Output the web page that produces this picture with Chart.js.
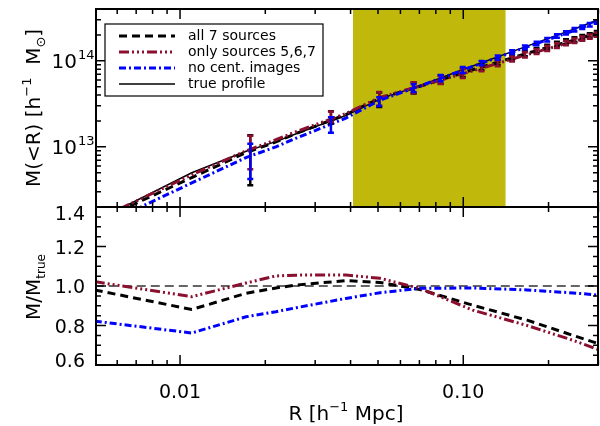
<!DOCTYPE html>
<html>
<head>
<meta charset="utf-8">
<script src="https://cdn.jsdelivr.net/npm/chart.js@4.4.1/dist/chart.umd.min.js"></script>
<style>
  html, body { margin: 0; padding: 0; background: #fff; }
  #wrap { width: 600px; height: 426px; }
</style>
</head>
<body>
<div id="wrap"><canvas id="massChart"></canvas></div>
<script>
// radii (h^-1 Mpc) where the model profiles are sampled
const gridR = [0.005, 0.011, 0.0171, 0.0218, 0.0257, 0.0385, 0.0508, 0.0703, 0.108, 0.168, 0.244, 0.3];

// enclosed mass M(<R), h^-1 Msun
const trueMass   = [1.36e12, 5.0e12, 8.9e12, 1.15e13, 1.42e13, 2.31e13, 3.61e13, 5.15e13, 8.7e13, 1.48e14, 2.31e14, 3.0e14];
const allMass    = [1.33e12, 4.4e12, 8.57e12, 1.14e13, 1.43e13, 2.37e13, 3.67e13, 5.06e13, 7.86e13, 1.22e14, 1.73e14, 2.12e14];
const onlyMass   = [1.39e12, 4.73e12, 9.0e12, 1.21e13, 1.5e13, 2.44e13, 3.75e13, 5.09e13, 7.64e13, 1.18e14, 1.67e14, 2.03e14];
const noCentMass = [1.12e12, 3.81e12, 7.51e12, 1.0e13, 1.26e13, 2.16e13, 3.49e13, 5.09e13, 8.61e13, 1.45e14, 2.23e14, 2.86e14];

// M / M_true
const allRatio    = [0.98, 0.881, 0.963, 0.99, 1.005, 1.027, 1.018, 0.982, 0.903, 0.827, 0.75, 0.708];
const onlyRatio   = [1.022, 0.946, 1.015, 1.051, 1.055, 1.056, 1.039, 0.988, 0.878, 0.80, 0.725, 0.678];
const noCentRatio = [0.822, 0.762, 0.844, 0.87, 0.89, 0.937, 0.966, 0.988, 0.99, 0.98, 0.965, 0.954];
const unityR = [0.005, 0.3];
const unity  = [1.0, 1.0];

// measured points with error bars (centre, half width in dex)
const errR = [0.0177, 0.0341, 0.0505, 0.0668, 0.0832, 0.0996, 0.116, 0.1323, 0.1487, 0.165, 0.1814, 0.1978, 0.2141, 0.2305, 0.2469, 0.2632, 0.2796, 0.296];
const allPts    = [7.0e12, 2.2e13, 3.53e13, 4.83e13, 6.06e13, 7.28e13, 8.46e13, 9.63e13, 1.085e14, 1.21e14, 1.32e14, 1.44e14, 1.56e14, 1.67e14, 1.77e14, 1.88e14, 1.98e14, 2.09e14];
const allErr    = [0.29, 0.07, 0.085, 0.065, 0.048, 0.05, 0.035, 0.033, 0.03, 0.03, 0.028, 0.028, 0.027, 0.027, 0.026, 0.026, 0.025, 0.025];
const onlyPts   = [8.6e12, 2.24e13, 3.61e13, 4.86e13, 6.0e13, 7.1e13, 8.2e13, 9.35e13, 1.05e14, 1.17e14, 1.28e14, 1.39e14, 1.5e14, 1.61e14, 1.71e14, 1.81e14, 1.91e14, 2.01e14];
const onlyErr   = [0.194, 0.06, 0.08, 0.065, 0.048, 0.05, 0.035, 0.033, 0.03, 0.03, 0.028, 0.028, 0.027, 0.027, 0.026, 0.026, 0.025, 0.025];
const noCentPts = [6.8e12, 1.8e13, 3.35e13, 4.8e13, 6.29e13, 7.82e13, 9.4e13, 1.09e14, 1.26e14, 1.43e14, 1.59e14, 1.76e14, 1.94e14, 2.11e14, 2.29e14, 2.46e14, 2.63e14, 2.82e14];
const noCentErr = [0.205, 0.09, 0.05, 0.045, 0.035, 0.035, 0.025, 0.025, 0.022, 0.022, 0.02, 0.02, 0.02, 0.02, 0.02, 0.02, 0.02, 0.02];

// shaded radial range
const bandR = [0.0408, 0.141];

// axis ticks
const xMajor = [0.01, 0.1];
const xMinor = [0.006, 0.007, 0.008, 0.009, 0.02, 0.03, 0.04, 0.05, 0.06, 0.07, 0.08, 0.09, 0.2, 0.3];
const massMajor = [1e13, 1e14];
const massLabels = ['13', '14'];
const massMinor = [3e12, 4e12, 5e12, 6e12, 7e12, 8e12, 9e12, 2e13, 3e13, 4e13, 5e13, 6e13, 7e13, 8e13, 9e13, 2e14, 3e14, 4e14];
const ratioMajor = [0.6, 0.8, 1.0, 1.2, 1.4];
const ratioLabels = ['0.6', '0.8', '1.0', '1.2', '1.4'];
const ratioMinor = [0.65, 0.7, 0.75, 0.85, 0.9, 0.95, 1.05, 1.1, 1.15, 1.25, 1.3, 1.35];

const RED = '#8b1030';
const BLUE = '#0000ff';
const BAND = 'rgb(192,185,12)';
const FONT = '"DejaVu Sans", sans-serif';

const legendItems = [
    { text: 'all 7 sources', color: '#000', dash: [8, 5], width: 3 },
    { text: 'only sources 5,6,7', color: RED, dash: [10, 3, 2, 3, 2, 3, 2, 3], width: 3 },
    { text: 'no cent. images', color: BLUE, dash: [7, 3, 2, 3], width: 3 },
    { text: 'true profile', color: '#000', dash: [], width: 1.5 }
];

const errSets = [
    { m: allPts, e: allErr, c: '#000' },
    { m: onlyPts, e: onlyErr, c: RED },
    { m: noCentPts, e: noCentErr, c: BLUE }
];

function pts(xs, ys) {
    return xs.map((x, i) => ({ x: x, y: ys[i] }));
}

function line(label, xs, ys, axis, color, width, dash) {
    return {
        label: label,
        data: pts(xs, ys),
        xAxisID: 'x',
        yAxisID: axis,
        borderColor: color,
        borderWidth: width,
        borderDash: dash,
        pointRadius: 0,
        tension: 0,
        fill: false
    };
}

// text with super/subscripts: parts = [text, size, dy]
function richText(ctx, parts, x, y) {
    let w = 0;
    parts.forEach(p => { ctx.font = p[1] + 'px ' + FONT; w += ctx.measureText(p[0]).width; });
    let cx = x - w / 2;
    ctx.textAlign = 'left';
    ctx.textBaseline = 'alphabetic';
    parts.forEach(p => {
        ctx.font = p[1] + 'px ' + FONT;
        ctx.fillText(p[0], cx, y + p[2]);
        cx += ctx.measureText(p[0]).width;
    });
}

// no extra label padding on the stacked y axes
function fixAxis(s) {
    s.width = 96;
    s.paddingTop = 0;
    s.paddingBottom = 0;
}

// keep each dataset inside its own panel
const panelClip = {
    id: 'panelClip',
    beforeDatasetDraw(chart, args) {
        const ys = chart.scales[args.meta.yAxisID];
        const a = chart.chartArea;
        chart.ctx.save();
        chart.ctx.beginPath();
        chart.ctx.rect(a.left, ys.top, a.right - a.left, ys.bottom - ys.top);
        chart.ctx.clip();
    },
    afterDatasetDraw(chart) {
        chart.ctx.restore();
    }
};

const decorations = {
    id: 'decorations',
    beforeDatasetsDraw(chart) {
        const ctx = chart.ctx;
        const sx = chart.scales.x, sy = chart.scales.y;
        const x0 = sx.getPixelForValue(bandR[0]);
        const x1 = sx.getPixelForValue(bandR[1]);
        ctx.save();
        ctx.fillStyle = BAND;
        ctx.fillRect(x0, sy.top, x1 - x0, sy.bottom - sy.top);
        ctx.restore();
    },
    afterDatasetsDraw(chart) {
        const ctx = chart.ctx;
        const sx = chart.scales.x, sy = chart.scales.y, sr = chart.scales.yRatio;
        const a = chart.chartArea;

        // error bars
        ctx.save();
        ctx.beginPath();
        ctx.rect(a.left, sy.top, a.right - a.left, sy.bottom - sy.top);
        ctx.clip();
        errSets.forEach(s => {
            ctx.strokeStyle = s.c;
            ctx.lineWidth = 2.5;
            ctx.setLineDash([]);
            ctx.beginPath();
            errR.forEach((r, i) => {
                const px = sx.getPixelForValue(r);
                const lo = sy.getPixelForValue(s.m[i] / Math.pow(10, s.e[i]));
                const hi = sy.getPixelForValue(s.m[i] * Math.pow(10, s.e[i]));
                ctx.moveTo(px, lo); ctx.lineTo(px, hi);
                ctx.moveTo(px - 3, lo); ctx.lineTo(px + 3, lo);
                ctx.moveTo(px - 3, hi); ctx.lineTo(px + 3, hi);
            });
            ctx.stroke();
        });
        ctx.restore();

        // panel frames with inward ticks
        ctx.save();
        ctx.strokeStyle = '#000';
        ctx.setLineDash([]);
        [sy, sr].forEach(ps => {
            ctx.lineWidth = 2;
            ctx.strokeRect(a.left, ps.top, a.right - a.left, ps.bottom - ps.top);
            ctx.lineWidth = 1.5;
            ctx.beginPath();
            [[xMajor, 10], [xMinor, 5]].forEach(([vals, len]) => {
                vals.forEach(v => {
                    const px = sx.getPixelForValue(v);
                    ctx.moveTo(px, ps.top); ctx.lineTo(px, ps.top + len);
                    ctx.moveTo(px, ps.bottom); ctx.lineTo(px, ps.bottom - len);
                });
            });
            const yt = ps === sy ? [[massMajor, 10], [massMinor, 5]] : [[ratioMajor, 10], [ratioMinor, 5]];
            yt.forEach(([vals, len]) => {
                vals.forEach(v => {
                    const py = ps.getPixelForValue(v);
                    if (py < ps.top - 0.5 || py > ps.bottom + 0.5) return;
                    ctx.moveTo(a.left, py); ctx.lineTo(a.left + len, py);
                    ctx.moveTo(a.right, py); ctx.lineTo(a.right - len, py);
                });
            });
            ctx.stroke();
        });
        ctx.restore();

        ctx.save();
        ctx.fillStyle = '#000';
        ctx.textBaseline = 'alphabetic';

        // log tick labels 10^13, 10^14
        massMajor.forEach((v, i) => {
            const py = sy.getPixelForValue(v);
            ctx.font = '20px ' + FONT;
            ctx.textAlign = 'right';
            ctx.fillText('10', 77, py + 7);
            ctx.font = '13px ' + FONT;
            ctx.textAlign = 'left';
            ctx.fillText(massLabels[i], 78, py - 2);
        });

        // ratio tick labels, kept inside the panel edges
        ctx.font = '19px ' + FONT;
        ctx.textAlign = 'right';
        ratioMajor.forEach((v, i) => {
            let py = sr.getPixelForValue(v);
            py = Math.min(Math.max(py, sr.top + 6), sr.bottom - 5);
            ctx.fillText(ratioLabels[i], 85, py + 7);
        });

        // legend
        const lx = 105, ly = 24, lw = 218, lh = 72;
        ctx.fillStyle = '#fff';
        ctx.fillRect(lx, ly, lw, lh);
        ctx.strokeStyle = '#000';
        ctx.lineWidth = 1.2;
        ctx.strokeRect(lx, ly, lw, lh);
        legendItems.forEach((it, i) => {
            const yy = 36 + i * 16;
            ctx.strokeStyle = it.color;
            ctx.lineWidth = it.width;
            ctx.setLineDash(it.dash);
            ctx.beginPath();
            ctx.moveTo(119, yy); ctx.lineTo(175, yy);
            ctx.stroke();
            ctx.setLineDash([]);
            ctx.fillStyle = '#000';
            ctx.font = '14px ' + FONT;
            ctx.textAlign = 'left';
            ctx.textBaseline = 'middle';
            ctx.fillText(it.text, 188, yy);
        });

        // axis titles
        ctx.fillStyle = '#000';
        richText(ctx, [['R [h', 20, 0], ['\u22121', 13, -9], [' Mpc]', 20, 0]], 346, 420);
        ctx.save();
        ctx.translate(40, 108);
        ctx.rotate(-Math.PI / 2);
        richText(ctx, [['M(<R) [h', 20, 0], ['\u22121', 13, -9], ['  M', 20, 0], ['\u2299', 13, 5], [']', 20, 0]], 0, 0);
        ctx.restore();
        ctx.save();
        ctx.translate(40, 287);
        ctx.rotate(-Math.PI / 2);
        richText(ctx, [['M/M', 20, 0], ['true', 12, 5]], 0, 0);
        ctx.restore();
        ctx.restore();
    }
};

new Chart(document.getElementById('massChart'), {
    type: 'line',
    data: {
        datasets: [
            line('no cent. images', gridR, noCentMass, 'y', BLUE, 3, [7, 3, 2, 3]),
            line('only sources 5,6,7', gridR, onlyMass, 'y', RED, 3, [10, 3, 2, 3, 2, 3, 2, 3]),
            line('all 7 sources', gridR, allMass, 'y', '#000', 3, [8, 5]),
            line('true profile', gridR, trueMass, 'y', '#000', 1.5, []),
            line('no cent. images', gridR, noCentRatio, 'yRatio', BLUE, 3, [7, 3, 2, 3]),
            line('only sources 5,6,7', gridR, onlyRatio, 'yRatio', RED, 3, [10, 3, 2, 3, 2, 3, 2, 3]),
            line('all 7 sources', gridR, allRatio, 'yRatio', '#000', 3, [8, 5]),
            line('unity', unityR, unity, 'yRatio', '#333', 1.4, [9, 5])
        ]
    },
    options: {
        responsive: true,
        maintainAspectRatio: false,
        animation: false,
        layout: { padding: { top: 9, right: 2, left: 0, bottom: 0 } },
        plugins: {
            legend: { display: false },
            tooltip: { enabled: false }
        },
        scales: {
            x: {
                type: 'logarithmic',
                axis: 'x',
                min: 0.00505,
                max: 0.299,
                grid: { display: false },
                border: { display: false },
                ticks: {
                    autoSkip: false,
                    maxRotation: 0,
                    padding: 9,
                    color: '#000',
                    font: { family: FONT, size: 19 },
                    callback: v => Number(v).toFixed(2)
                },
                afterBuildTicks: s => { s.ticks = xMajor.map(v => ({ value: v })); },
                afterFit: s => { s.height = 61; s.paddingLeft = 0; s.paddingRight = 0; }
            },
            yRatio: {
                type: 'linear',
                axis: 'y',
                min: 0.6,
                max: 1.4,
                position: 'left',
                stack: 'panels',
                stackWeight: 158,
                grid: { display: false },
                border: { display: false },
                ticks: { display: false },
                afterFit: fixAxis
            },
            y: {
                type: 'logarithmic',
                axis: 'y',
                min: 2.0e12,
                max: 4.0e14,
                position: 'left',
                stack: 'panels',
                stackWeight: 198,
                grid: { display: false },
                border: { display: false },
                ticks: { display: false },
                afterFit: fixAxis
            }
        }
    },
    plugins: [panelClip, decorations]
});
</script>
</body>
</html>
